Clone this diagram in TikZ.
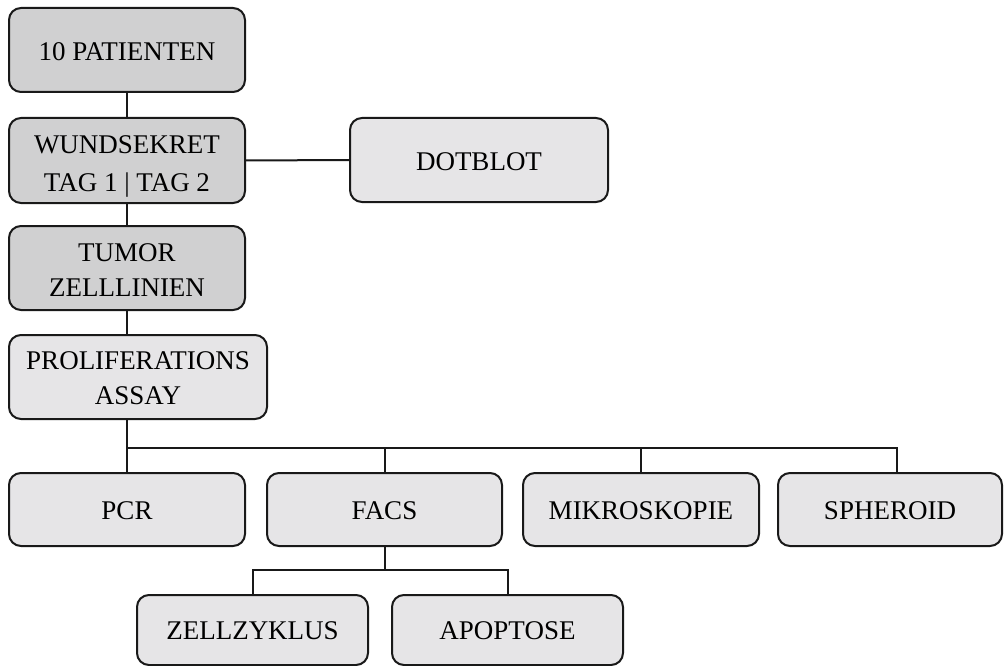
\documentclass[tikz,border=0pt]{standalone}
\usepackage{fontspec}
\setmainfont{Liberation Serif}
\definecolor{darkbox}{HTML}{D0D0D1}
\definecolor{lightbox}{HTML}{E6E5E7}
\newcommand{\upstrut}[1]{\rule{0pt}{#1}}
\begin{document}
\begin{tikzpicture}[x=1pt,y=-1pt,
  box/.style={draw=black!90, line width=2pt, rounded corners=12pt, align=center, inner sep=0pt,
    font=\fontsize{27pt}{35pt}\selectfont},
  dbox/.style={box, fill=darkbox},
  lbox/.style={box, fill=lightbox},
  conn/.style={line width=2pt, draw=black!90}]
\useasboundingbox (0,0) rectangle (1004,666);
\node[dbox, minimum width=236pt, minimum height=84pt] (pat) at (127,50) {\upstrut{22pt}10 PATIENTEN};
\node[dbox, minimum width=236pt, minimum height=85pt, font=\fontsize{27pt}{38pt}\selectfont] (wund) at (127,160.5) {\upstrut{29pt}WUNDSEKRET\\TAG 1 | TAG 2};
\node[lbox, minimum width=258pt, minimum height=84pt] (dot) at (479,160) {\upstrut{22pt}DOTBLOT};
\node[dbox, minimum width=236pt, minimum height=84pt] (tum) at (127,268) {\upstrut{21pt}TUMOR\\ZELLLINIEN};
\node[lbox, minimum width=258pt, minimum height=84pt] (prol) at (138,377) {\upstrut{20pt}PROLIFERATIONS\\ASSAY};
\node[lbox, minimum width=236pt, minimum height=73pt] (pcr) at (127,509.5) {\upstrut{20pt}PCR};
\node[lbox, minimum width=235pt, minimum height=73pt] (facs) at (384.5,509.5) {\upstrut{20pt}FACS};
\node[lbox, minimum width=236pt, minimum height=73pt] (mik) at (641,509.5) {\upstrut{20pt}MIKROSKOPIE};
\node[lbox, minimum width=224pt, minimum height=73pt] (sph) at (890,509.5) {\upstrut{20pt}SPHEROID};
\node[lbox, minimum width=231pt, minimum height=70pt] (zz) at (252.5,630) {\upstrut{20pt}ZELLZYKLUS};
\node[lbox, minimum width=231pt, minimum height=70pt] (apo) at (507.5,630) {\upstrut{20pt}APOPTOSE};
\coordinate (bus) at (127,448);
\coordinate (sphdrop) at (897,473);
\coordinate (fbus) at (384.5,570);
\draw[conn] (pat.south) -- (wund.north);
\draw[conn] (wund.east) -- (dot.west);
\draw[conn] (wund.south) -- (tum.north);
\draw[conn] (tum.south) -- (tum.south |- prol.north);
\draw[conn] (tum.south |- prol.south) -- (bus) -- (pcr.north);
\draw[conn] (bus) -| (sphdrop);
\draw[conn] (bus) -| (facs.north);
\draw[conn] (bus) -| (mik.north);
\draw[conn] (facs.south) -- (fbus);
\draw[conn] (fbus) -| (zz.north);
\draw[conn] (fbus) -| (apo.north);
\end{tikzpicture}
\end{document}
